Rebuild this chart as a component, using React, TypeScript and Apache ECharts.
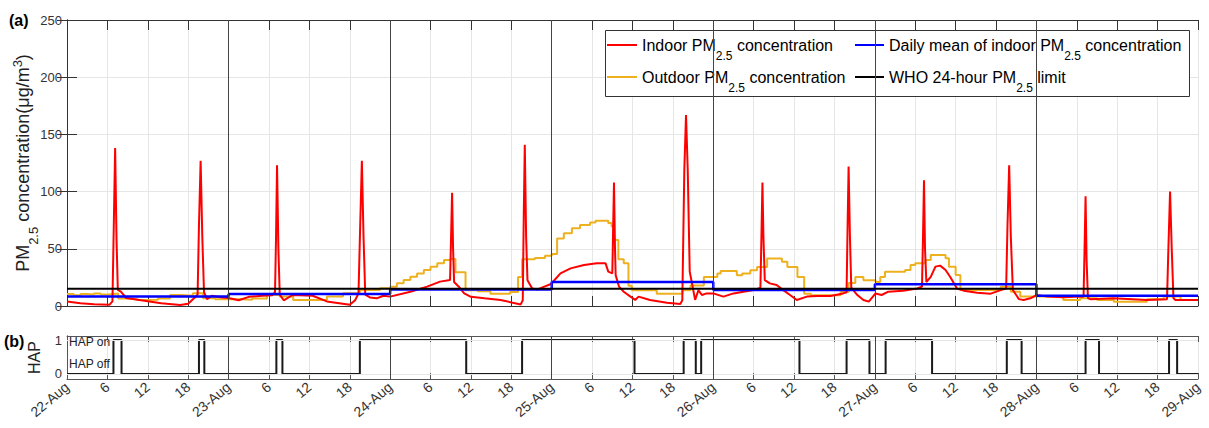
import React, { useEffect, useRef } from 'react';
import * as echarts from 'echarts';

const REG = '"Liberation Sans", Arial, sans-serif';

// hours since 22-Aug 00:00
const dayLabels = ['22-Aug', '23-Aug', '24-Aug', '25-Aug', '26-Aug', '27-Aug', '28-Aug', '29-Aug'];
const dayBoundaries = [24, 48, 72, 96, 120, 144];

const indoor: [number, number][] = [
  [0, 4], [2, 2.5], [4, 1.5], [6.3, 1], [6.75, 4],
  [6.95, 70], [7.15, 138], [7.35, 60], [7.55, 14],
  [8, 12.5], [8.8, 7], [11, 5], [14, 2.5], [16.8, 0.8], [18, 2], [18.9, 7], [19.4, 10],
  [19.6, 70], [19.85, 127], [20.1, 60], [20.35, 12],
  [20.8, 6], [21.5, 9], [23, 7.5], [24, 7],
  [25.5, 5], [27, 8], [29, 9], [30.5, 9.5], [30.9, 12],
  [31.05, 60], [31.2, 123], [31.4, 50], [31.6, 10],
  [32.2, 5], [33.5, 9.6], [36.5, 9], [38.6, 4], [42, 1], [42.8, 5], [43.3, 11],
  [43.55, 70], [43.8, 127], [44.05, 60], [44.3, 10],
  [45, 7.5], [46, 6.7], [47, 9], [48, 8.2],
  [51, 12.5], [53.5, 16.9], [55.4, 21.3], [56.9, 22.7],
  [57.05, 60], [57.2, 99], [57.35, 50], [57.5, 21],
  [58.2, 16.9], [59, 11], [60, 8], [62, 6.7], [64.4, 5.2], [67.4, 1.4], [67.7, 5],
  [67.85, 80], [68.0, 141], [68.2, 60], [68.4, 22.6],
  [69.1, 15.3], [69.9, 14.4], [70.9, 16.9], [71.9, 19.2], [73.3, 28.5], [74.8, 32.9], [76.8, 35.8], [78.7, 37.3], [80, 37.3], [80.4, 30], [81, 28.5],
  [81.1, 60], [81.25, 108], [81.4, 50], [81.5, 27],
  [82, 16.9], [82.7, 12.5], [83.7, 8.2], [84.4, 5.3], [84.9, 8.2], [86.6, 5.3], [89.1, 2.9], [91.1, 1.7], [91.4, 5],
  [91.7, 120], [91.95, 167], [92.2, 120], [92.5, 30],
  [92.8, 21], [93.3, 5.3], [93.8, 13.9], [94.3, 9.6], [95, 11], [96, 11], [97.5, 8.2], [99, 11], [100.5, 12.5], [102.4, 14.5], [103.0, 16],
  [103.15, 60], [103.3, 108], [103.45, 60], [103.65, 22.6],
  [104.4, 19.8], [105.4, 18.3], [106.4, 13.9], [107.4, 9.6], [108.4, 5.3], [109.9, 8.2], [111.4, 8.7], [113.4, 8.7], [115.3, 11], [115.8, 12],
  [115.95, 70], [116.1, 122], [116.3, 60], [116.5, 16],
  [117.4, 9.6], [118.3, 5.3], [119.1, 3.8], [120.1, 11], [121, 9.6], [122, 12.5], [124.2, 13.4], [126.3, 15.3], [127.0, 16.9],
  [127.15, 60], [127.3, 110], [127.45, 50], [127.65, 21],
  [128.3, 25.4], [129, 34.4], [129.7, 35.3], [130.5, 31.5], [131.2, 25.4], [132.2, 15.3], [133.2, 13.4], [135.2, 11.6], [137.2, 10.8], [138.7, 13.9], [139.5, 15.3],
  [139.7, 70], [139.95, 123], [140.2, 60], [140.5, 14],
  [141.4, 6], [142.1, 5.3], [143.1, 6.7], [144, 9.6], [145.6, 8.2], [148, 7.6], [150.5, 8.2], [151.0, 8],
  [151.15, 50], [151.3, 96], [151.45, 40], [151.65, 7],
  [152, 6], [155.4, 6.7], [160.4, 5.3], [163.4, 6],
  [163.6, 50], [163.85, 100], [164.1, 50], [164.35, 7],
  [164.6, 5.3], [168, 5.3],
];

const outdoor: [number, number][] = [
  [0, 10.5], [1, 9.5], [2, 10.5], [3, 10], [4, 11], [5, 10], [6, 10.5], [7, 11], [7.6, 6.5], [9, 6], [10.4, 5.2], [12, 5.5], [13.5, 6.5], [15.3, 9.6], [17, 9], [18.7, 11.1], [20.2, 6.7], [22, 6],
  [24, 6], [26, 5.5], [27.5, 6.5], [29.7, 9.6], [31.6, 8.2], [33.6, 5.2], [38.6, 8.2], [41, 11.1], [43.5, 14], [46.5, 15.5],
  [48, 16.9], [49, 19.8], [50, 22.7], [51, 25.6], [52, 28.5], [53, 31.5], [54, 34.4], [55, 37.3], [56, 40.2], [57, 41], [57.7, 29.5], [59.2, 13.7], [61, 13], [62.9, 10.8], [65.8, 12.2], [67, 25.4], [67.6, 40.8], [69.5, 42], [71, 44], [72, 45.5],
  [72.8, 59], [73.8, 63.5], [75, 68], [76.2, 70.8], [77.7, 73], [78.5, 74.6], [80.4, 72.5], [80.9, 69.5], [81.2, 57.7], [81.9, 40.8], [82.7, 37.3], [83.4, 17.6], [83.9, 13.7], [87.6, 10.8], [91.4, 13.7], [92.6, 18], [94.6, 25.4],
  [96.6, 28.3], [97.1, 30.6], [99.5, 26.8], [100.3, 28.3], [101.5, 31.2], [102.5, 34.1], [104, 41.6], [106.2, 38.7], [107, 34.1], [108.5, 25.4], [109.5, 10.8], [110.5, 9.3], [114.9, 12.2], [116.1, 20], [117.1, 25.4], [118.3, 22.5],
  [120.1, 21], [120.8, 25.4], [121.5, 30], [124.5, 31.5], [125.3, 35.8], [126, 37.3], [127.5, 40.2], [128.3, 44.6], [130.5, 41.7], [131, 34.4], [132, 27], [132.7, 13.9], [138.7, 16.8], [140.2, 12.5], [141.6, 8.2],
  [145.6, 8.2], [148, 5.3], [150.5, 6.7], [153, 5.3], [155.5, 3.8], [160.4, 6], [162.9, 8.2], [165.4, 5.3], [168, 5.3],
];

const meanStarts = [0, 24, 48, 72, 96, 120, 144, 168];
const meanValues = [8.2, 10.5, 14.5, 21, 14, 19, 9, 9];
const whoLimit = 15;

const hap: [number, number][] = [
  [0, 0], [6.9, 1], [8.1, 0], [19.6, 1], [20.4, 0], [31.1, 1], [32.0, 0], [43.5, 1], [59.3, 0],
  [67.6, 1], [84.3, 0], [91.6, 1], [93.4, 0], [94.2, 1], [108.8, 0], [115.8, 1], [119.2, 0],
  [121.6, 1], [128.5, 0], [139.6, 1], [141.8, 0], [151.3, 1], [153.3, 0], [163.7, 1], [164.9, 0], [168, 0],
];

const N_IN = 'Indoor PM2.5 concentration';
const N_OUT = 'Outdoor PM2.5 concentration';
const N_MEAN = 'Daily mean of indoor PM2.5 concentration';
const N_WHO = 'WHO 24-hour PM2.5 limit';
const richNames: Record<string, string> = {
  [N_IN]: '{t|Indoor PM}{s|2.5}{t| concentration}',
  [N_OUT]: '{t|Outdoor PM}{s|2.5}{t| concentration}',
  [N_MEAN]: '{t|Daily mean of indoor PM}{s|2.5}{t| concentration}',
  [N_WHO]: '{t|WHO 24-hour PM}{s|2.5}{t| limit}',
};

export default function App() {
  const ref = useRef<HTMLDivElement>(null);
  useEffect(() => {
    if (!ref.current) return;
    const chart = echarts.init(ref.current, undefined, { renderer: 'svg' });
    const axisCol = '#333';
    const gridCol = '#e6e6e6';
    const xBase: any = { type: 'value', min: 0, max: 168, interval: 6 };
    const legendRich = {
      t: { fontSize: 16, fontFamily: REG, lineHeight: 33, color: '#000' },
      s: { fontSize: 12, fontFamily: REG, verticalAlign: 'bottom', color: '#000' },
    };
    const legendBase: any = {
      orient: 'horizontal', icon: 'rect', itemHeight: 2, padding: 0, selectedMode: false,
      formatter: (n: string) => richNames[n] || n,
      textStyle: { rich: legendRich },
    };
    const meanData = meanStarts.map((t, i) => [t, meanValues[i]]);
    const option: any = {
      animation: false,
      grid: [
        { left: 67, top: 20, right: 11, height: 286, outerBoundsMode: 'none', containLabel: false },
        { left: 67, top: 336, right: 11, height: 43, outerBoundsMode: 'none', containLabel: false },
      ],
      xAxis: [
        { ...xBase, gridIndex: 0, position: 'bottom', axisLine: { show: true, onZero: false, lineStyle: { color: axisCol } }, axisTick: { inside: true, length: 10, lineStyle: { color: axisCol } }, axisLabel: { show: false }, splitLine: { show: true, lineStyle: { color: gridCol } } },
        { ...xBase, gridIndex: 0, position: 'top', axisLine: { show: true, onZero: false, lineStyle: { color: axisCol } }, axisTick: { inside: true, length: 10, lineStyle: { color: axisCol } }, axisLabel: { show: false }, splitLine: { show: false } },
        {
          ...xBase, gridIndex: 1, position: 'bottom', axisLine: { show: true, onZero: false, lineStyle: { color: '#555' } }, axisTick: { inside: true, length: 6, lineStyle: { color: '#555' } },
          axisLabel: {
            show: true, rotate: 40, margin: 6, fontSize: 14, fontFamily: REG, color: axisCol, showMinLabel: true, showMaxLabel: true,
            formatter: (v: number) => { const h = Math.round(v); return h % 24 === 0 ? dayLabels[h / 24] : String(h % 24); },
          },
          splitLine: { show: true, lineStyle: { color: gridCol } },
        },
        { ...xBase, gridIndex: 1, position: 'top', axisLine: { show: true, onZero: false, lineStyle: { color: '#555' } }, axisTick: { inside: true, length: 6, lineStyle: { color: '#555' } }, axisLabel: { show: false }, splitLine: { show: false } },
      ],
      yAxis: [
        {
          type: 'value', gridIndex: 0, min: 0, max: 250, interval: 50, position: 'left',
          axisLine: { show: true, lineStyle: { color: axisCol } }, axisTick: { show: true, inside: true, length: 10, lineStyle: { color: axisCol } },
          axisLabel: { fontSize: 13, fontFamily: REG, color: axisCol, margin: 5 },
          splitLine: { show: true, lineStyle: { color: gridCol } },
          name: '{t|PM}{s|2.5}{t| concentration(μg/m}{p|3}{t|)}', nameLocation: 'middle', nameRotate: 90, nameGap: 27, nameMoveOverlap: false,
          nameTextStyle: {
            rich: {
              t: { fontSize: 18, fontFamily: REG, lineHeight: 34, color: '#222' },
              s: { fontSize: 13, fontFamily: REG, verticalAlign: 'bottom', color: '#222' },
              p: { fontSize: 13, fontFamily: REG, verticalAlign: 'top', padding: [5, 0, 0, 0], color: '#222' },
            },
          },
        },
        { type: 'value', gridIndex: 0, min: 0, max: 250, interval: 50, position: 'right', axisLine: { show: true, lineStyle: { color: axisCol } }, axisTick: { show: true, inside: true, length: 10, lineStyle: { color: axisCol } }, axisLabel: { show: false }, splitLine: { show: false } },
        {
          type: 'value', gridIndex: 1, min: -0.15, max: 1.12, interval: 0.05, position: 'left',
          axisLine: { show: true, lineStyle: { color: '#555' } }, axisTick: { show: false },
          axisLabel: { fontSize: 13, fontFamily: REG, color: axisCol, margin: 5, formatter: (v: number) => (Math.abs(v) < 1e-6 ? '0' : Math.abs(v - 1) < 1e-6 ? '1' : '') },
          splitLine: { show: false },
          name: 'HAP', nameLocation: 'middle', nameRotate: 90, nameGap: 24, nameMoveOverlap: false,
          nameTextStyle: { fontSize: 16, fontFamily: REG, color: '#222', lineHeight: 18 },
        },
        { type: 'value', gridIndex: 1, min: -0.15, max: 1.12, interval: 0.05, position: 'right', axisLine: { show: true, lineStyle: { color: '#555' } }, axisTick: { show: false }, axisLabel: { show: false }, splitLine: { show: false } },
      ],
      legend: [
        { ...legendBase, left: 607, top: 37, itemWidth: 30, data: [N_IN] },
        { ...legendBase, left: 855, top: 37, itemWidth: 29, data: [N_MEAN] },
        { ...legendBase, left: 607, top: 69, itemWidth: 30, data: [N_OUT] },
        { ...legendBase, left: 855, top: 69, itemWidth: 29, data: [N_WHO] },
      ],
      graphic: [
        { type: 'rect', z: 3, shape: { x: 605.5, y: 30.5, width: 584, height: 66 }, style: { fill: '#fff', stroke: '#333', lineWidth: 1 } },
        { type: 'text', z: 5, x: 9, y: 20, style: { text: '(a)', fontSize: 16, fontWeight: 'bold', fontFamily: REG, fill: '#000', verticalAlign: 'middle' } },
        { type: 'text', z: 5, x: 4, y: 341, style: { text: '(b)', fontSize: 16, fontWeight: 'bold', fontFamily: REG, fill: '#000', verticalAlign: 'middle' } },
        { type: 'text', z: 50, x: 69, y: 342, style: { text: 'HAP on', fontSize: 12, fontFamily: REG, fill: '#222', verticalAlign: 'middle' } },
        { type: 'text', z: 50, x: 69, y: 364, style: { text: 'HAP off', fontSize: 12, fontFamily: REG, fill: '#222', verticalAlign: 'middle' } },
      ],
      series: [
        {
          type: 'line', xAxisIndex: 0, yAxisIndex: 0, z: 1, symbol: 'none', silent: true,
          data: [[0, whoLimit], [168, whoLimit]], lineStyle: { opacity: 0 },
          markLine: { silent: true, symbol: ['none', 'none'], label: { show: false }, lineStyle: { color: '#444', width: 1, type: 'solid' }, data: dayBoundaries.map((v) => ({ xAxis: v })) },
        },
        { name: N_OUT, type: 'line', xAxisIndex: 0, yAxisIndex: 0, z: 2, symbol: 'none', step: 'end', data: outdoor, itemStyle: { color: '#EDB120' }, lineStyle: { color: '#EDB120', width: 2 } },
        { name: N_IN, type: 'line', xAxisIndex: 0, yAxisIndex: 0, z: 3, symbol: 'none', data: indoor, itemStyle: { color: '#ff0000' }, lineStyle: { color: '#ff0000', width: 2 } },
        { name: N_MEAN, type: 'line', xAxisIndex: 0, yAxisIndex: 0, z: 4, symbol: 'none', step: 'end', data: meanData, itemStyle: { color: '#0000ff' }, lineStyle: { color: '#0000ff', width: 2.5 } },
        { name: N_WHO, type: 'line', xAxisIndex: 0, yAxisIndex: 0, z: 5, symbol: 'none', data: [[0, whoLimit], [168, whoLimit]], itemStyle: { color: '#000' }, lineStyle: { color: '#000', width: 2 } },
        {
          type: 'line', xAxisIndex: 2, yAxisIndex: 2, z: 1, symbol: 'none', silent: true, data: hap, lineStyle: { opacity: 0 },
          markLine: {
            silent: true, symbol: ['none', 'none'], label: { show: false },
            data: [
              { yAxis: 0, lineStyle: { color: gridCol, width: 1, type: 'solid' } },
              { yAxis: 1, lineStyle: { color: gridCol, width: 1, type: 'solid' } },
              ...dayBoundaries.map((v) => ({ xAxis: v, lineStyle: { color: '#444', width: 1, type: 'solid' } })),
            ],
          },
        },
        { name: 'HAP', type: 'line', xAxisIndex: 2, yAxisIndex: 2, z: 3, symbol: 'none', step: 'end', data: hap, itemStyle: { color: '#1a1a1a' }, lineStyle: { color: '#1a1a1a', width: 2 } },
      ],
    };
    chart.setOption(option);
    return () => chart.dispose();
  }, []);
  return <div ref={ref} style={{ position: 'absolute', left: 0, top: 0, width: 1209, height: 428 }} />;
}
